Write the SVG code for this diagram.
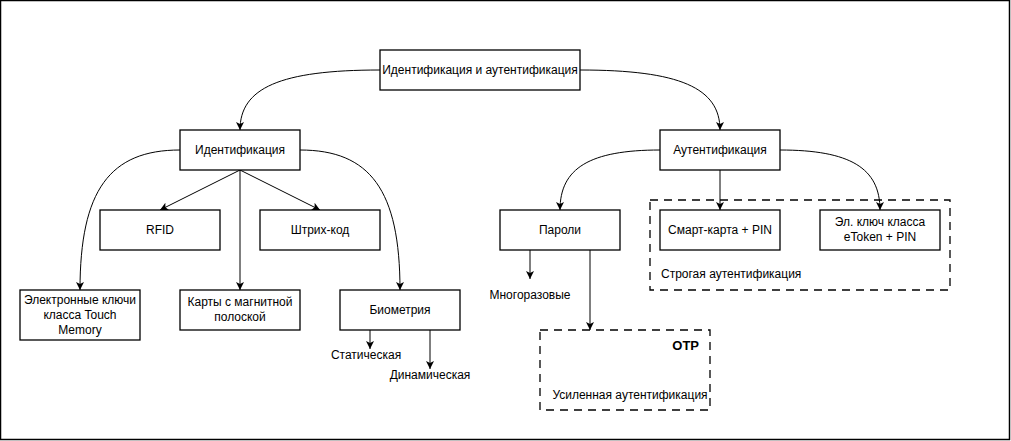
<svg xmlns="http://www.w3.org/2000/svg" width="1011" height="441" viewBox="0 0 1011 441">
<style>
.n{fill:#fff;stroke:#000;stroke-width:1.3}
.d{fill:none;stroke:#000;stroke-width:1.3;stroke-dasharray:8 6}
text{font-family:"Liberation Sans",Arial,sans-serif;font-size:12px;fill:#000}
.c{text-anchor:middle}
.e{fill:none;stroke:#000;stroke-width:1}
</style>
<defs>
<marker id="a" markerUnits="userSpaceOnUse" markerWidth="10" markerHeight="10" refX="8" refY="4" orient="auto" viewBox="0 0 10 8">
<path d="M0,0 L8,4 L0,8 L2,4 Z" fill="#000"/>
</marker>
</defs>
<rect x="0.5" y="0.5" width="1009" height="439" fill="#fff" stroke="#000" stroke-width="1.5"/>
<g id="connectors">
<path class="e" d="M380 70 C 280 70 240 88 240 130" marker-end="url(#a)"/>
<path class="e" d="M580 70 C 680 70 720 88 720 130" marker-end="url(#a)"/>
<path class="e" d="M180 150 C 110 150 80 190 80 290" marker-end="url(#a)"/>
<path class="e" d="M300 150 C 370 150 400 190 400 290" marker-end="url(#a)"/>
<path class="e" d="M240 170 L240 290" marker-end="url(#a)"/>
<path class="e" d="M240 170 L160 210" marker-end="url(#a)"/>
<path class="e" d="M240 170 L320 210" marker-end="url(#a)"/>
<path class="e" d="M370 330 L370 349" marker-end="url(#a)"/>
<path class="e" d="M430 330 L430 369" marker-end="url(#a)"/>
<path class="e" d="M660 150 C 590 150 560 168 560 210" marker-end="url(#a)"/>
<path class="e" d="M780 150 C 850 150 880 168 880 210" marker-end="url(#a)"/>
<path class="e" d="M720 170 L720 210" marker-end="url(#a)"/>
<path class="e" d="M530 250 L530 279" marker-end="url(#a)"/>
<path class="e" d="M590 250 L590 330" marker-end="url(#a)"/>
</g>
<g id="strong-group">
<rect class="d" x="650" y="200" width="300" height="90"/>
<text x="661" y="278">Строгая аутентификация</text>
</g>
<g id="otp-group">
<rect class="d" x="540" y="330" width="170" height="80"/>
<text x="699" y="350" text-anchor="end" font-weight="bold" style="font-size:13px">OTP</text>
<text x="630" y="399" class="c">Усиленная аутентификация</text>
</g>
<g id="root"><rect class="n" x="380" y="50" width="200" height="40"/><text x="480" y="74" class="c">Идентификация и аутентификация</text></g>
<g id="ident"><rect class="n" x="180" y="130" width="120" height="40"/><text x="240" y="154" class="c">Идентификация</text></g>
<g id="auth"><rect class="n" x="660" y="130" width="120" height="40"/><text x="720" y="154" class="c">Аутентификация</text></g>
<g id="rfid"><rect class="n" x="100" y="210" width="120" height="40"/><text x="160" y="234" class="c">RFID</text></g>
<g id="barcode"><rect class="n" x="260" y="210" width="120" height="40"/><text x="320" y="234" class="c">Штрих-код</text></g>
<g id="touch"><rect class="n" x="20" y="290" width="120" height="50"/><text class="c"><tspan x="80" y="304">Электронные ключи</tspan><tspan x="80" y="319">класса Touch</tspan><tspan x="80" y="334">Memory</tspan></text></g>
<g id="magnet"><rect class="n" x="180" y="290" width="120" height="40"/><text class="c"><tspan x="240" y="306">Карты с магнитной</tspan><tspan x="240" y="321">полоской</tspan></text></g>
<g id="bio"><rect class="n" x="340" y="290" width="120" height="40"/><text x="400" y="314" class="c">Биометрия</text></g>
<g id="static"><text x="366" y="359" class="c">Статическая</text></g>
<g id="dynamic"><text x="430" y="379" class="c">Динамическая</text></g>
<g id="passwords"><rect class="n" x="500" y="210" width="120" height="40"/><text x="560" y="234" class="c">Пароли</text></g>
<g id="reusable"><text x="530" y="299" class="c">Многоразовые</text></g>
<g id="smart"><rect class="n" x="660" y="210" width="120" height="40"/><text x="720" y="234" class="c">Смарт-карта + PIN</text></g>
<g id="etoken"><rect class="n" x="820" y="210" width="120" height="40"/><text class="c"><tspan x="880" y="226">Эл. ключ класса</tspan><tspan x="880" y="241">eToken + PIN</tspan></text></g>
</svg>
